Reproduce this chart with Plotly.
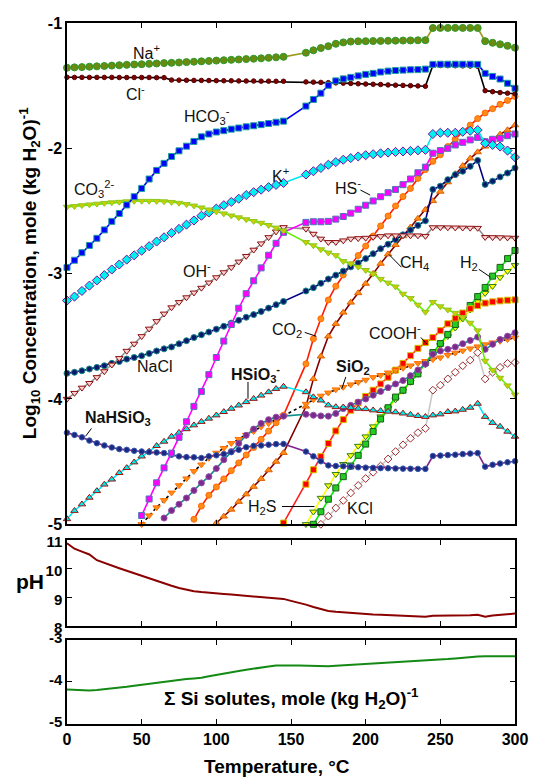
import plotly.graph_objects as go

# Temperature grid (°C) used by the speciation series (no points at 150, 155)
TEMPS = list(range(0, 150, 5)) + list(range(160, 305, 5))
TEMPS_FULL = list(range(0, 305, 5))

# Log10 concentrations, mole (kg H2O)^-1 (aligned to the END of TEMPS)
na_plus = [-1.357,-1.354,-1.352,-1.349,-1.346,-1.343,-1.340,-1.337,-1.334,-1.331,
           -1.329,-1.326,-1.323,-1.320,-1.318,-1.315,-1.312,-1.309,-1.306,-1.303,
           -1.300,-1.297,-1.294,-1.291,-1.288,-1.285,-1.282,-1.278,-1.274,-1.270,
           -1.237,-1.218,-1.200,-1.185,-1.166,-1.155,-1.148,-1.146,-1.145,-1.144,
           -1.143,-1.142,-1.141,-1.140,-1.139,-1.138,-1.137,
           -1.040,-1.039,-1.039,-1.039,-1.039,-1.039,-1.040,
           -1.145,-1.158,-1.170,-1.182,-1.197]
cl_minus = [-1.433,-1.434,-1.434,-1.434,-1.434,-1.434,-1.434,-1.435,-1.435,-1.435,
            -1.435,-1.435,-1.436,-1.436,
            -1.455,-1.456,-1.457,-1.458,-1.458,-1.459,-1.460,-1.461,-1.461,-1.462,
            -1.463,-1.463,-1.464,-1.464,-1.465,-1.465,
            -1.470,-1.472,-1.474,-1.476,-1.478,-1.480,-1.482,-1.485,-1.487,-1.489,
            -1.491,-1.494,-1.496,-1.498,-1.500,-1.502,-1.505,
            -1.338,-1.339,-1.340,-1.341,-1.342,-1.343,-1.345,
            -1.540,-1.548,-1.555,-1.560,-1.565]
hco3 = [-2.951,-2.893,-2.833,-2.775,-2.718,-2.651,-2.583,-2.520,-2.452,-2.386,
        -2.320,-2.245,-2.176,-2.120,-2.065,-2.020,-1.983,-1.945,-1.908,-1.886,
        -1.870,-1.859,-1.847,-1.838,-1.828,-1.820,-1.811,-1.802,-1.792,-1.783,
        -1.663,-1.610,-1.560,-1.497,-1.462,-1.446,-1.434,-1.422,-1.410,-1.402,
        -1.391,-1.384,-1.379,-1.376,-1.373,-1.372,-1.368,
        -1.330,-1.329,-1.329,-1.329,-1.329,-1.329,-1.330,
        -1.402,-1.426,-1.447,-1.481,-1.521]
co3 = [-2.467,-2.462,-2.455,-2.449,-2.443,-2.437,-2.432,-2.428,-2.424,-2.421,
       -2.420,-2.420,-2.421,-2.424,-2.429,-2.436,-2.446,-2.458,-2.473,-2.489,
       -2.505,-2.521,-2.537,-2.552,-2.567,-2.581,-2.595,-2.613,-2.634,-2.657,
       -2.749,-2.775,-2.807,-2.833,-2.854,-2.901,-2.920,-2.946,-2.972,-3.001,
       -3.043,-3.073,-3.104,-3.162,-3.196,-3.249,-3.306,
       -3.227,-3.262,-3.288,-3.314,-3.349,-3.393,-3.454,
       -3.696,-3.769,-3.832,-3.893,-3.966]
k_plus = [-3.215,-3.183,-3.138,-3.096,-3.054,-3.012,-2.967,-2.927,-2.888,-2.854,
          -2.817,-2.781,-2.744,-2.710,-2.675,-2.643,-2.609,-2.576,-2.538,-2.512,
          -2.481,-2.454,-2.428,-2.402,-2.373,-2.350,-2.330,-2.310,-2.292,-2.276,
          -2.209,-2.183,-2.157,-2.131,-2.110,-2.091,-2.078,-2.065,-2.055,-2.047,
          -2.040,-2.034,-2.029,-2.025,-2.021,-2.016,-2.012,
          -1.886,-1.876,-1.876,-1.876,-1.868,-1.860,-1.854,
          -1.960,-1.973,-1.986,-2.018,-2.071]
hs_minus = [-4.930,-4.798,-4.669,-4.550,-4.432,-4.306,-4.182,-4.059,-3.940,-3.806,
            -3.669,-3.538,-3.406,-3.276,-3.160,-3.057,-2.954,-2.853,-2.758,-2.670,
            -2.591,-2.586,-2.586,-2.583,-2.565,-2.544,-2.517,-2.486,-2.454,-2.420,
            -2.386,-2.354,-2.328,-2.290,-2.245,-2.195,-2.150,
            -2.039,-2.018,-2.000,-1.973,-1.952,-1.933,-1.913,
            -1.947,-1.928,-1.920,-1.899,-1.886]
oh_minus = [-4.000,-3.953,-3.911,-3.874,-3.827,-3.780,-3.727,-3.675,-3.617,-3.560,
            -3.500,-3.440,-3.380,-3.320,-3.270,-3.228,-3.190,-3.152,-3.114,-3.072,
            -3.030,-2.990,-2.950,-2.905,-2.860,-2.810,-2.760,-2.710,-2.665,-2.630,
            -2.643,-2.683,-2.722,-2.749,-2.749,-2.736,-2.722,-2.718,-2.715,-2.708,
            -2.702,-2.696,-2.696,-2.696,-2.696,-2.696,-2.700,
            -2.631,-2.631,-2.632,-2.633,-2.634,-2.635,-2.636,
            -2.709,-2.710,-2.711,-2.713,-2.715]
nacl = [-3.795,-3.787,-3.775,-3.761,-3.748,-3.735,-3.716,-3.701,-3.682,-3.669,
        -3.656,-3.637,-3.617,-3.600,-3.585,-3.560,-3.535,-3.510,-3.488,-3.466,
        -3.443,-3.420,-3.395,-3.372,-3.348,-3.327,-3.302,-3.275,-3.248,-3.222,
        -3.138,-3.112,-3.077,-3.043,-3.012,-2.980,-2.946,-2.915,-2.880,-2.841,
        -2.801,-2.765,-2.728,-2.690,-2.652,-2.615,-2.578,
        -2.328,-2.302,-2.250,-2.210,-2.183,-2.144,-2.097,
        -2.288,-2.262,-2.228,-2.197,-2.157]
ch4 = [-4.990,-4.937,-4.882,-4.820,-4.760,-4.700,-4.637,-4.568,-4.500,-4.430,
       -4.060,-3.840,-3.660,-3.500,-3.400,-3.310,-3.230,-3.155,-3.080,-3.000,
       -2.920,-2.845,-2.770,-2.700,-2.630,-2.560,-2.490,
       -2.420,-2.345,-2.270,-2.205,-2.140,-2.080,-2.030,
       -1.985,-1.935,-1.889,-1.854,-1.815]
co2 = [-4.960,-4.855,-4.768,-4.702,-4.638,-4.572,-4.510,-4.447,-4.387,-4.322,
       -4.256,-4.190,-4.130,
       -3.720,-3.520,-3.360,-3.210,-3.100,-3.010,-2.930,-2.855,-2.780,-2.700,
       -2.620,-2.540,-2.460,-2.385,-2.320,-2.240,-2.170,
       -2.104,-2.052,-1.986,-1.928,-1.868,-1.815,-1.763,
       -1.718,-1.684,-1.649,-1.618,-1.586]
cooh = [-4.990,
        -4.680,-4.565,-4.460,-4.355,-4.255,-4.165,-4.090,-4.030,-3.980,-3.930,
        -3.880,-3.827,-3.770,-3.716,-3.655,-3.596,-3.550,
        -3.510,-3.455,-3.400,-3.355,-3.314,-3.280,-3.255,
        -3.235,-3.225,-3.217,-3.212,-3.209]
h2 = [-5.000,-4.900,-4.800,-4.710,-4.620,-4.535,-4.450,-4.360,-4.260,-4.160,
      -4.070,-3.985,-3.930,-3.860,-3.800,-3.710,
      -3.630,-3.558,-3.485,-3.406,-3.333,-3.254,-3.183,
      -3.110,-3.020,-2.950,-2.880,-2.815]
h2s = [-5.000,-4.900,-4.790,-4.690,-4.600,-4.520,-4.450,-4.375,-4.300,-4.220,
       -4.140,-4.075,-4.005,-3.935,-3.865,-3.800,-3.725,
       -3.651,-3.572,-3.500,-3.432,-3.360,-3.288,-3.222,
       -3.156,-3.100,-3.030,-2.980,-2.933]
kcl = [-5.000,-4.935,-4.870,-4.810,-4.750,-4.690,-4.635,-4.585,-4.535,-4.479,
       -4.420,-4.366,-4.314,-4.269,-4.235,
       -3.930,-3.890,-3.840,-3.787,-3.735,-3.690,-3.630,
       -3.840,-3.787,-3.748,-3.716,-3.709]
sio2 = [-5.000,-4.930,-4.866,-4.808,-4.748,-4.690,-4.635,-4.576,-4.524,-4.471,
        -4.430,-4.392,-4.353,-4.320,-4.287,-4.258,-4.221,-4.195,-4.164,-4.135,
        -4.040,-4.005,-3.975,-3.950,-3.925,-3.905,-3.885,-3.866,-3.848,-3.827,
        -3.810,-3.790,-3.772,-3.753,-3.734,-3.715,-3.698,
        -3.684,-3.670,-3.650,-3.632,-3.615,-3.598,-3.582,
        -3.565,-3.550,-3.538,-3.524,-3.511]
hsio3 = [-4.958,-4.892,-4.840,-4.787,-4.734,-4.682,-4.642,-4.590,-4.550,-4.505,
         -4.458,-4.419,-4.374,-4.340,-4.300,-4.269,-4.240,-4.209,-4.182,-4.156,
         -4.130,-4.103,-4.077,-4.051,-4.024,-3.998,-3.972,-3.945,-3.919,-3.901,
         -3.945,-3.985,-4.011,-4.050,-4.064,-4.066,-4.070,-4.077,-4.080,-4.090,
         -4.095,-4.100,-4.105,-4.115,-4.125,-4.135,-4.142,
         -4.130,-4.122,-4.103,-4.098,-4.085,-4.069,-4.037,
         -4.142,-4.190,-4.220,-4.260,-4.300]
nahsio3 = [-4.269,-4.287,-4.306,-4.332,-4.353,-4.371,-4.387,-4.400,-4.406,-4.414,
           -4.419,-4.424,-4.427,-4.432,-4.445,-4.458,-4.464,-4.466,-4.471,-4.458,
           -4.450,-4.440,-4.424,-4.406,-4.385,-4.374,-4.371,-4.365,-4.360,-4.359,
           -4.420,-4.458,-4.497,-4.530,-4.535,-4.537,-4.540,-4.545,-4.548,-4.550,
           -4.552,-4.553,-4.555,-4.556,-4.557,-4.558,-4.558,
           -4.455,-4.452,-4.448,-4.445,-4.440,-4.436,-4.432,
           -4.540,-4.525,-4.515,-4.505,-4.497]
si_other = [-4.950,-4.890,-4.840,-4.790,-4.730,-4.670,-4.620,-4.555,-4.485,-4.420,
            -4.355,-4.290,-4.240,-4.195,-4.165,-4.145,-4.137,
            -4.122,-4.130,-4.135,-4.137,-4.116,-4.077,-4.051,-4.025,-4.000,-3.970,
            -3.940,-3.910,-3.880,-3.853,-3.814,-3.769,-3.722,
            -3.643,-3.617,-3.604,-3.585,-3.559,-3.533,-3.506,
            -3.604,-3.564,-3.525,-3.499,-3.472]

ph = [10.89,10.70,10.60,10.50,10.30,10.20,10.10,10.02,9.93,9.84,
      9.76,9.67,9.58,9.50,9.41,9.33,9.27,9.22,9.19,9.16,
      9.14,9.12,9.10,9.08,9.06,9.04,9.02,9.00,8.97,8.95,
      8.88,8.82,8.75,8.67,8.59,8.53,8.50,8.48,8.46,8.43,
      8.42,8.41,8.40,8.39,8.38,8.36,8.35,8.34,8.33,8.36,
      8.36,8.36,8.36,8.36,8.38,8.40,8.33,8.37,8.40,8.42,
      8.44]
si_total = [-4.18,-4.19,-4.20,-4.20,-4.19,-4.175,-4.16,-4.14,-4.115,-4.09,
            -4.065,-4.04,-4.015,-3.99,-3.975,-3.95,-3.93,-3.915,-3.90,-3.865,
            -3.83,-3.80,-3.77,-3.74,-3.71,-3.68,-3.655,-3.63,-3.61,-3.60,
            -3.605,-3.61,-3.615,-3.622,-3.628,-3.625,-3.615,-3.605,-3.595,-3.585,
            -3.575,-3.565,-3.556,-3.547,-3.538,-3.528,-3.518,-3.508,-3.497,-3.485,
            -3.47,-3.455,-3.44,-3.42,-3.40,-3.392,-3.39,-3.39,-3.388,-3.386,
            -3.385]

FONT = "Liberation Sans, Arial, sans-serif"
fig = go.Figure()


def add_series(vals, name, symbol, size, fill, edge, lcolor, dash="solid", lw=1.6):
    xs = TEMPS[-len(vals):]
    fig.add_trace(go.Scatter(
        x=xs, y=vals, name=name, mode="lines+markers", cliponaxis=False,
        line=dict(color=lcolor, width=lw, dash=dash),
        marker=dict(symbol=symbol, size=size, color=fill,
                    line=dict(color=edge, width=1)),
        xaxis="x", yaxis="y", showlegend=False))


add_series(kcl, "KCl", "diamond", 6, "white", "#a0282a", "#c8c8c8")
add_series(h2s, "H2S", "triangle-down", 6.5, "#ffff00", "#2e7d1e", "#ffff00")
add_series(h2, "H2", "square", 6, "#22cc22", "#1a5c1a", "#00ee00")
add_series(cooh, "COOH-", "square", 6, "#ff0000", "#d4c400", "#ff2020")
add_series(co2, "CO2", "circle", 6, "#ff8c1a", "#ff6a00", "#ff1a00")
add_series(ch4, "CH4", "triangle-up", 6.5, "#ff8c1a", "#e06000", "#800000")
add_series(sio2, "SiO2", "triangle-down", 6.5, "#ff8c1a", "#ff7000", "black", dash="dot")
add_series(si_other, "Si species", "circle", 6, "#7a2a8a", "#9a4aaa", "#108c8c")
add_series(hsio3, "HSiO3-", "triangle-up", 6.5, "#00e8e8", "#a01010", "#00e8f0")
add_series(nahsio3, "NaHSiO3", "circle", 5.5, "#1a2a80", "#3a5ab0", "#80208a")
add_series(nacl, "NaCl", "circle", 6, "#0a1a6a", "#1a8a8a", "#000080")
add_series(oh_minus, "OH-", "triangle-down", 6.5, "#ffd0d0", "#8b1010", "#909090")
add_series(hs_minus, "HS-", "square", 6, "#ff00ff", "#4a7ab4", "#ff00ff")
add_series(k_plus, "K+", "diamond", 7, "#00f0f0", "#7a10a0", "#00e8f0")
add_series(co3, "CO3 2-", "triangle-down", 6.5, "#cccc00", "#8cc820", "#66ee00")
add_series(cl_minus, "Cl-", "circle", 4.5, "#800000", "#5a0000", "black")
add_series(hco3, "HCO3-", "square", 6, "#0000ff", "#20a0a0", "#0000ff")
add_series(na_plus, "Na+", "circle", 7, "#6b8a10", "#2a9a2a", "#9a9a20")

fig.add_trace(go.Scatter(x=TEMPS_FULL, y=ph, mode="lines", showlegend=False,
                         line=dict(color="#8b0000", width=2), xaxis="x2", yaxis="y2"))
fig.add_trace(go.Scatter(x=TEMPS_FULL, y=si_total, mode="lines", showlegend=False,
                         line=dict(color="#148a14", width=2), xaxis="x3", yaxis="y3"))

# Species labels (data coordinates of the main panel)
labels = [
    ("Na<sup>+</sup>", 53, -1.229, False),
    ("Cl<sup>-</sup>", 46, -1.56, False),
    ("HCO<sub>3</sub><sup>-</sup>", 94, -1.742, False),
    ("CO<sub>3</sub><sup>2-</sup>", 18, -2.325, False),
    ("K<sup>+</sup>", 143, -2.215, False),
    ("HS<sup>-</sup>", 188, -2.31, False),
    ("OH<sup>-</sup>", 87, -2.972, False),
    ("CH<sub>4</sub>", 232.5, -2.917, False),
    ("H<sub>2</sub>", 269, -2.917, False),
    ("CO<sub>2</sub>", 147, -3.454, False),
    ("COOH<sup>-</sup>", 219.5, -3.469, False),
    ("NaCl", 59, -3.738, False),
    ("HSiO<sub>3</sub><sup>-</sup>", 126.5, -3.80, True),
    ("SiO<sub>2</sub>", 191.5, -3.746, True),
    ("NaHSiO<sub>3</sub>", 34, -4.156, True),
    ("H<sub>2</sub>S", 130.5, -4.866, False),
    ("KCl", 196.5, -4.874, False),
]
ann = []
for txt, xv, yv, bold in labels:
    ann.append(dict(x=xv, y=yv, xref="x", yref="y", showarrow=False,
                    xanchor="center", yanchor="middle",
                    text=("<b>%s</b>" % txt) if bold else txt,
                    font=dict(family=FONT, size=16, color="#111")))

leaders = [
    (196.5, -2.333, 203, -2.373),
    (215.5, -2.846, 224, -2.949),
    (275.8, -2.965, 283.6, -3.028),
    (159.2, -3.469, 167, -3.50),
    (237, -3.509, 241, -3.564),
    (121.2, -3.864, 121.2, -3.998),
    (186.7, -3.825, 184, -3.919),
    (16.4, -4.235, 12.4, -4.298),
    (144, -4.858, 165.7, -4.858),
]
shapes = [dict(type="line", xref="x", yref="y", x0=a, y0=b, x1=c, y1=d,
               line=dict(color="black", width=1)) for a, b, c, d in leaders]

ann.append(dict(x=-0.085, y=0.643, xref="paper", yref="paper", showarrow=False,
                xanchor="center", yanchor="middle", textangle=-90,
                text="Log<sub>10</sub> Concentration, mole (kg H<sub>2</sub>O)<sup>-1</sup>",
                font=dict(family=FONT, size=19, color="black", weight="bold")))
ann.append(dict(x=-0.083, y=0.203, xref="paper", yref="paper", showarrow=False,
                xanchor="center", yanchor="middle",
                text="pH", font=dict(family=FONT, size=21, color="black", weight="bold")))
ann.append(dict(x=0.469, y=-0.061, xref="paper", yref="paper", showarrow=False,
                xanchor="center", yanchor="middle",
                text="Temperature, °C",
                font=dict(family=FONT, size=19, color="black", weight="bold")))
ann.append(dict(x=150, y=-4.40, xref="x3", yref="y3", showarrow=False,
                xanchor="center", yanchor="middle",
                text="Σ Si solutes, mole (kg H<sub>2</sub>O)<sup>-1</sup>",
                font=dict(family=FONT, size=19, color="black", weight="bold")))

tickfont = dict(family=FONT, size=16, color="black", weight="bold")
tickfont_small = dict(family=FONT, size=15, color="black", weight="bold")
xcommon = dict(range=[0, 300], tickvals=[0, 50, 100, 150, 200, 250, 300],
               ticks="inside", ticklen=5, tickwidth=1.3, tickcolor="black",
               showline=True, linecolor="black", linewidth=1.5, mirror="ticks",
               showgrid=False, zeroline=False, tickfont=tickfont)
ycommon = dict(ticks="inside", ticklen=5, tickwidth=1.3, tickcolor="black",
               showline=True, linecolor="black", linewidth=1.5, mirror="ticks",
               showgrid=False, zeroline=False)

fig.update_layout(
    width=540, height=778, autosize=False,
    margin=dict(l=67, r=15, t=15, b=54),
    paper_bgcolor="white", plot_bgcolor="white",
    font=dict(family=FONT),
    xaxis=dict(**xcommon, anchor="y", showticklabels=False),
    xaxis2=dict(**xcommon, anchor="y2", matches="x", showticklabels=False),
    xaxis3=dict(**xcommon, anchor="y3", matches="x",
                ticktext=["0", "50", "100", "150", "200", "250", "300"]),
    yaxis=dict(**ycommon, tickfont=tickfont, domain=[0.2849, 1.0], range=[-5, -1],
               tickvals=[-1, -2, -3, -4, -5], ticktext=["-1", "-2", "-3", "-4", "-5"], anchor="x"),
    yaxis2=dict(**ycommon, tickfont=tickfont_small, domain=[0.1396, 0.2623], range=[8, 11],
                tickvals=[8, 9, 10, 11], ticktext=["8", "9", "10", "11"], anchor="x2",
                ticklabelshift=2),
    yaxis3=dict(**ycommon, tickfont=tickfont_small, domain=[0.0, 0.1199], range=[-5, -3],
                tickvals=[-3, -4, -5], ticktext=["-3", "-4", "-5"], anchor="x3",
                ticklabelshift=-2),
    annotations=ann, shapes=shapes, showlegend=False,
)

fig.write_html("out.html",
               config={"responsive": False, "displayModeBar": False},
               post_script="document.body.style.margin='0';document.body.style.padding='0';"
                           "document.body.style.overflow='hidden';")
